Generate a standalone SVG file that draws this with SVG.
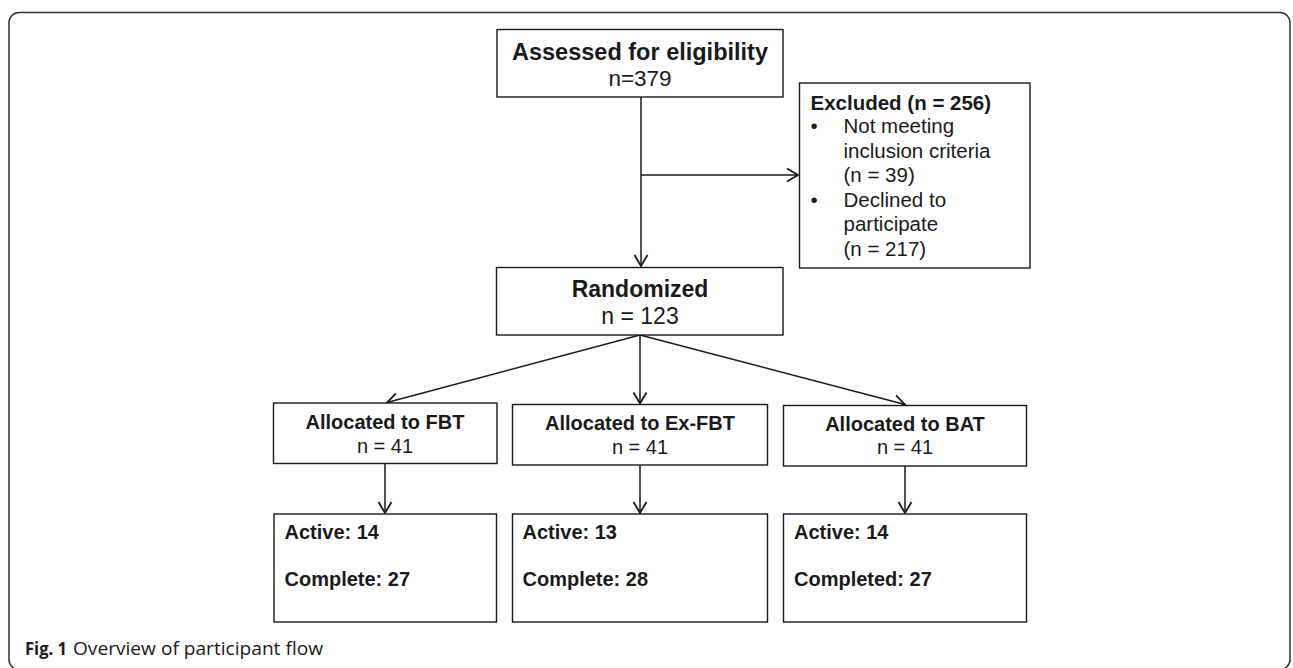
<svg xmlns="http://www.w3.org/2000/svg" width="1293" height="668" viewBox="0 0 1293 668">
<style>
.box{fill:#fff;stroke:#1a1a1a;stroke-width:1.4}
.con{fill:none;stroke:#1a1a1a;stroke-width:1.5}
.t{font-family:"Liberation Sans",Arial,Helvetica,sans-serif;fill:#1a1a1a}
.b{font-weight:bold}
.c{text-anchor:middle}
.cap{font-family:"Open Sans","Liberation Sans",sans-serif;fill:#1a1a1a;font-size:18px}
</style>
<defs>
<marker id="arr" markerUnits="userSpaceOnUse" viewBox="-13 -9 15 18" markerWidth="15" markerHeight="18" refX="0" refY="0" orient="auto">
<path d="M-11,-6.5 L0,0 L-11,6.5" fill="none" stroke="#1a1a1a" stroke-width="1.8"/>
</marker>
</defs>
<rect width="1293" height="668" fill="#fff"/>
<rect x="9" y="12.5" width="1281" height="657" rx="10" ry="10" fill="none" stroke="#333" stroke-width="1.5"/>

<g id="connectors">
<line class="con" x1="641" y1="97" x2="641" y2="266" marker-end="url(#arr)"/>
<line class="con" x1="641" y1="175" x2="798" y2="175" marker-end="url(#arr)"/>
<line class="con" x1="640" y1="335" x2="387" y2="402.5" marker-end="url(#arr)"/>
<line class="con" x1="640" y1="335" x2="640" y2="403.5" marker-end="url(#arr)"/>
<line class="con" x1="640" y1="335" x2="905" y2="404.5" marker-end="url(#arr)"/>
<line class="con" x1="385" y1="463" x2="385" y2="513" marker-end="url(#arr)"/>
<line class="con" x1="640" y1="465" x2="640" y2="513" marker-end="url(#arr)"/>
<line class="con" x1="905" y1="466" x2="905" y2="513" marker-end="url(#arr)"/>
</g>

<g id="assessed">
<rect class="box" x="497" y="29.5" width="286" height="67.5"/>
<text class="t b c" x="640" y="60" font-size="23.5">Assessed for eligibility</text>
<text class="t c" x="640" y="86" font-size="22.5">n=379</text>
</g>

<g id="excluded">
<rect class="box" x="799.5" y="83" width="230.5" height="185"/>
<text class="t b" x="810.5" y="109.5" font-size="20.5">Excluded (n = 256)</text>
<g class="t" font-size="20.5">
<text x="810.5" y="133">•</text>
<text x="843.5" y="133">Not meeting</text>
<text x="843.5" y="157.5">inclusion criteria</text>
<text x="843.5" y="182">(n = 39)</text>
<text x="810.5" y="207">•</text>
<text x="843.5" y="207">Declined to</text>
<text x="843.5" y="231">participate</text>
<text x="843.5" y="255.5">(n = 217)</text>
</g>
</g>

<g id="randomized">
<rect class="box" x="496.5" y="267.5" width="286.5" height="67.5"/>
<text class="t b c" x="640" y="297" font-size="23">Randomized</text>
<text class="t c" x="640" y="324" font-size="23">n = 123</text>
</g>

<g id="alloc-fbt">
<rect class="box" x="273.5" y="403" width="223.5" height="60.5"/>
<text class="t b c" x="385" y="428.5" font-size="20">Allocated to FBT</text>
<text class="t c" x="385" y="452.5" font-size="20">n = 41</text>
</g>

<g id="alloc-exfbt">
<rect class="box" x="512.5" y="404.5" width="255" height="60.5"/>
<text class="t b c" x="640" y="430" font-size="20">Allocated to Ex-FBT</text>
<text class="t c" x="640" y="453.5" font-size="20">n = 41</text>
</g>

<g id="alloc-bat">
<rect class="box" x="783.5" y="405.5" width="243" height="60.5"/>
<text class="t b c" x="905" y="430.5" font-size="20">Allocated to BAT</text>
<text class="t c" x="905" y="454" font-size="20">n = 41</text>
</g>

<g id="out-fbt">
<rect class="box" x="274" y="514" width="222.5" height="108"/>
<text class="t b" x="284.5" y="538.5" font-size="20">Active: 14</text>
<text class="t b" x="284.5" y="586" font-size="20">Complete: 27</text>
</g>

<g id="out-exfbt">
<rect class="box" x="512.5" y="514" width="255" height="108"/>
<text class="t b" x="522.5" y="538.5" font-size="20">Active: 13</text>
<text class="t b" x="522.5" y="586" font-size="20">Complete: 28</text>
</g>

<g id="out-bat">
<rect class="box" x="783.5" y="514" width="243" height="108"/>
<text class="t b" x="794" y="538.5" font-size="20">Active: 14</text>
<text class="t b" x="794" y="586" font-size="20">Completed: 27</text>
</g>

<g id="caption">
<text class="cap" x="25" y="655" font-weight="bold" textLength="42" lengthAdjust="spacingAndGlyphs">Fig. 1</text>
<text class="cap" x="73" y="655" textLength="250" lengthAdjust="spacingAndGlyphs">Overview of participant flow</text>
</g>
</svg>
